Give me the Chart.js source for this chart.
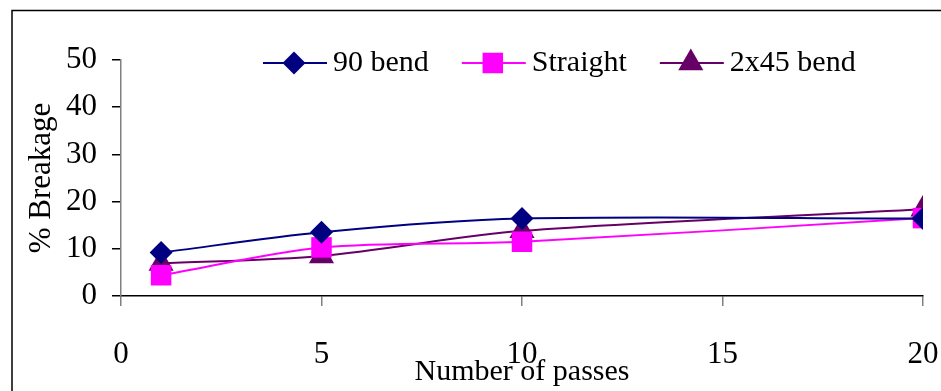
<!DOCTYPE html>
<html>
<head>
<meta charset="utf-8">
<script src="https://cdn.jsdelivr.net/npm/chart.js@4/dist/chart.umd.min.js"></script>
<style>
  html, body { margin: 0; padding: 0; background: #fff; overflow: hidden; }
  #wrap { width: 941px; height: 391px; }
  canvas { display: block; }
</style>
</head>
<body>
<div id="wrap"><canvas id="chart" width="941" height="391"></canvas></div>
<script>
// data
const passes = [1, 5, 10, 20];
const bend90 = [9.2, 13.5, 16.4, 16.4];
const straight = [4.4, 10.3, 11.5, 16.5];
const bend2x45 = [6.9, 8.5, 13.8, 18.4];
const seriesNames = ["90 bend", "Straight", "2x45 bend"];
const xTicks = [0, 5, 10, 15, 20];
const yTicks = [0, 10, 20, 30, 40, 50];

const FONT = "'Liberation Serif', 'Times New Roman', serif";

const toPoints = (vals) => vals.map((v, i) => ({ x: passes[i], y: v }));

//draws one marker the same way for the legend
function drawMarker(ctx, style, x, y, r, color) {
  ctx.save();
  ctx.fillStyle = color;
  ctx.beginPath();
  if (style === "rectRot") {
    ctx.moveTo(x, y - r);
    ctx.lineTo(x + r, y);
    ctx.lineTo(x, y + r);
    ctx.lineTo(x - r, y);
  } else if (style === "rect") {
    const s = Math.SQRT1_2 * r;
    ctx.rect(x - s, y - s, 2 * s, 2 * s);
  } else {
    const h = r * Math.sqrt(3) / 2;
    ctx.moveTo(x, y - r);
    ctx.lineTo(x + h, y + r / 2);
    ctx.lineTo(x - h, y + r / 2);
  }
  ctx.closePath();
  ctx.fill();
  ctx.restore();
}

// frame round the chart + legend inside the plot area
const framePlugin = {
  id: "frame",
  beforeDraw(chart) {
    const ctx = chart.ctx;
    ctx.save();
    ctx.strokeStyle = "#000";
    ctx.lineWidth = 1.5;
    ctx.strokeRect(12, 10.5, 2000, 2000);
    ctx.restore();
  },
  afterDraw(chart) {
    const ctx = chart.ctx;
    let x = 263;
    const y = 63;
    ctx.save();
    ctx.font = "30px " + FONT;
    ctx.textBaseline = "middle";
    chart.data.datasets.forEach((ds) => {
      ctx.strokeStyle = ds.borderColor;
      ctx.lineWidth = 2;
      ctx.beginPath();
      ctx.moveTo(x, y);
      ctx.lineTo(x + 64, y);
      ctx.stroke();
      drawMarker(ctx, ds.pointStyle, x + 31, y, ds.pointRadius, ds.backgroundColor);
      ctx.fillStyle = "#000";
      ctx.fillText(ds.label, x + 70, y);
      x += 70 + ctx.measureText(ds.label).width + 33;
    });
    ctx.restore();
  },
};

const chart = new Chart("chart", {
  type: "line",
  data: {
    datasets: [
      {
        label: seriesNames[0],
        data: toPoints(bend90),
        borderColor: "#000080",
        backgroundColor: "#000080",
        pointStyle: "rectRot",
        pointRadius: 11.5,
        pointBorderWidth: 0,
      },
      {
        label: seriesNames[1],
        data: toPoints(straight),
        borderColor: "#FF00FF",
        backgroundColor: "#FF00FF",
        pointStyle: "rect",
        pointRadius: 14.5,
        pointBorderWidth: 0,
      },
      {
        label: seriesNames[2],
        data: toPoints(bend2x45),
        borderColor: "#660066",
        backgroundColor: "#660066",
        pointStyle: "triangle",
        pointRadius: 14.5,
        pointBorderWidth: 0,
      },
    ],
  },
  options: {
    responsive: false,
    animation: false,
    events: [],
    elements: {
      line: { borderWidth: 2, tension: 0.3, fill: false },
    },
    layout: { padding: { left: 12, top: 60, right: 18, bottom: 0 } },
    plugins: {
      legend: { display: false },
      tooltip: { enabled: false },
    },
    scales: {
      x: {
        type: "linear",
        min: 0,
        max: 20,
        afterBuildTicks: (s) => { s.ticks = xTicks.map((v) => ({ value: v })); },
        afterFit: (s) => { s.height = 95; s.paddingRight = 0; s.paddingLeft = 0; },
        border: { color: "#000", width: 1.5 },
        grid: { drawOnChartArea: false, drawTicks: true, tickLength: 10, color: "#808080", lineWidth: 1.5 },
        ticks: { color: "#000", padding: 30, maxRotation: 0, font: { family: FONT, size: 31 } },
        title: {
          display: true,
          text: "Number of passes",
          color: "#000",
          padding: { top: 0, bottom: 1 },
          font: { family: FONT, size: 30 },
        },
      },
      y: {
        min: 0,
        max: 50,
        afterBuildTicks: (s) => { s.ticks = yTicks.map((v) => ({ value: v })); },
        afterFit: (s) => { s.width = 109; s.paddingTop = 0; s.paddingBottom = 0; },
        border: { color: "#808080", width: 1.5 },
        grid: { drawOnChartArea: false, drawTicks: true, tickLength: 9, color: "#000", lineWidth: 1.5 },
        ticks: { color: "#000", padding: 15, font: { family: FONT, size: 31 } },
        title: {
          display: true,
          text: "% Breakage",
          color: "#000",
          padding: { top: 11, bottom: 0 },
          font: { family: FONT, size: 31 },
        },
      },
    },
  },
  plugins: [framePlugin],
});
</script>
</body>
</html>
